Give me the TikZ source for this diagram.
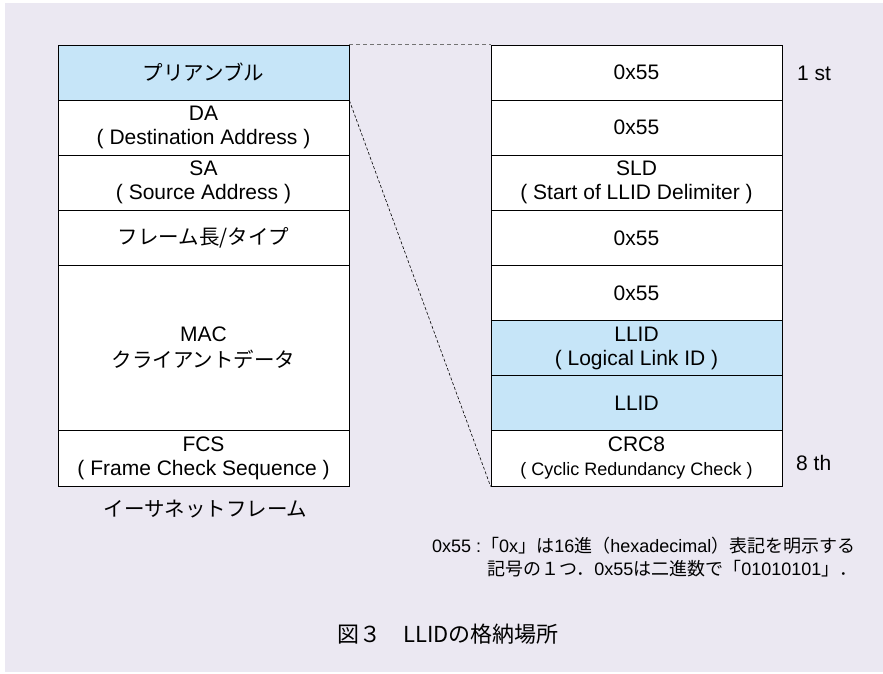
\documentclass[tikz,border=0pt]{standalone}
\usepackage{fontspec}
\setmainfont{Liberation Sans}
\newfontfamily\jp{Noto Sans CJK JP}
\definecolor{bgc}{HTML}{EBE8F2}
\definecolor{lblue}{HTML}{C6E5F8}
\newcommand\jpt[1]{{\jp\fontsize{20.5}{24}\selectfont #1}}
\newcommand\jpn[1]{{\jp #1}}
\begin{document}
\begin{tikzpicture}[x=1pt,y=-1pt,
  cell/.style={draw=black, line width=0.8pt, fill=white, minimum width=291pt,
    minimum height=55.125pt, inner sep=0pt, align=center,
    font=\fontsize{21}{24}\selectfont},
  hl/.style={fill=lblue},
  side/.style={font=\fontsize{21}{24}\selectfont, anchor=base west, inner sep=0pt},
  note/.style={font=\fontsize{18}{22}\selectfont, anchor=base west, inner sep=0pt},
  zoomtop/.style={draw=black!55, line width=1.5pt, dash pattern=on 4pt off 3pt},
  zoomdiag/.style={draw=black, line width=0.6pt, dash pattern=on 3pt off 2pt}]
\useasboundingbox (0,0) rectangle (883,673);
\fill[white] (0,0) rectangle (883,673);
\fill[bgc] (5,3) rectangle (883,672);
% left column
\def\lx{203.5}
\def\rx{636.5}
\node[cell,hl] (l1) at (\lx,72.56) {\jpt{プリアンブル}};
\node[cell] (l2) at (\lx,127.69) {DA\\( Destination Address )};
\node[cell] (l3) at (\lx,182.81) {SA\\( Source Address )};
\node[cell] (l4) at (\lx,237.94) {\jpt{フレーム長/タイプ}};
\node[cell, minimum height=165.375pt] (l5) at (\lx,348.19) {MAC\\[2pt]\jpt{クライアントデータ}};
\node[cell] (l6) at (\lx,458.44) {FCS\\( Frame Check Sequence )};
% right column
\node[cell] (r1) at (\rx,72.56) {0x55};
\node[cell] (r2) at (\rx,127.69) {0x55};
\node[cell] (r3) at (\rx,182.81) {SLD\\( Start of LLID Delimiter )};
\node[cell] (r4) at (\rx,237.94) {0x55};
\node[cell] (r5) at (\rx,293.06) {0x55};
\node[cell,hl] (r6) at (\rx,348.19) {LLID\\( Logical Link ID )};
\node[cell,hl] (r7) at (\rx,403.31) {LLID};
\node[cell] (r8) at (\rx,458.44) {CRC8\\{\fontsize{18}{22}\selectfont ( Cyclic Redundancy Check )}};
% zoom connectors
\draw[zoomtop] (l1.north east) -- (r1.north west);
\draw[zoomdiag] (l1.south east) -- (r8.south west);
% side labels
\node[side] (first) at (797,80) {1 st};
\node[side] (eighth) at (796,470) {8 th};
% frame label
\node[anchor=base, inner sep=0pt, font=\jp\fontsize{20.5}{24}\selectfont] (eth) at (205.5,516) {イーサネットフレーム};
% note
\node[note] (n1) at (432,552) {0x55 :\jpn{「}0x\jpn{」は}16\jpn{進（}hexadecimal\jpn{）表記を明示する}};
\node[note] (n2) at (487,575) {\jpn{記号の１つ．}0x55\jpn{は二進数で「}01010101\jpn{」．}};
% caption
\node[anchor=base, inner sep=0pt, font=\jp\fontsize{22}{26}\selectfont] (cap) at (448,642) {図３　LLIDの格納場所};
\end{tikzpicture}
\end{document}
